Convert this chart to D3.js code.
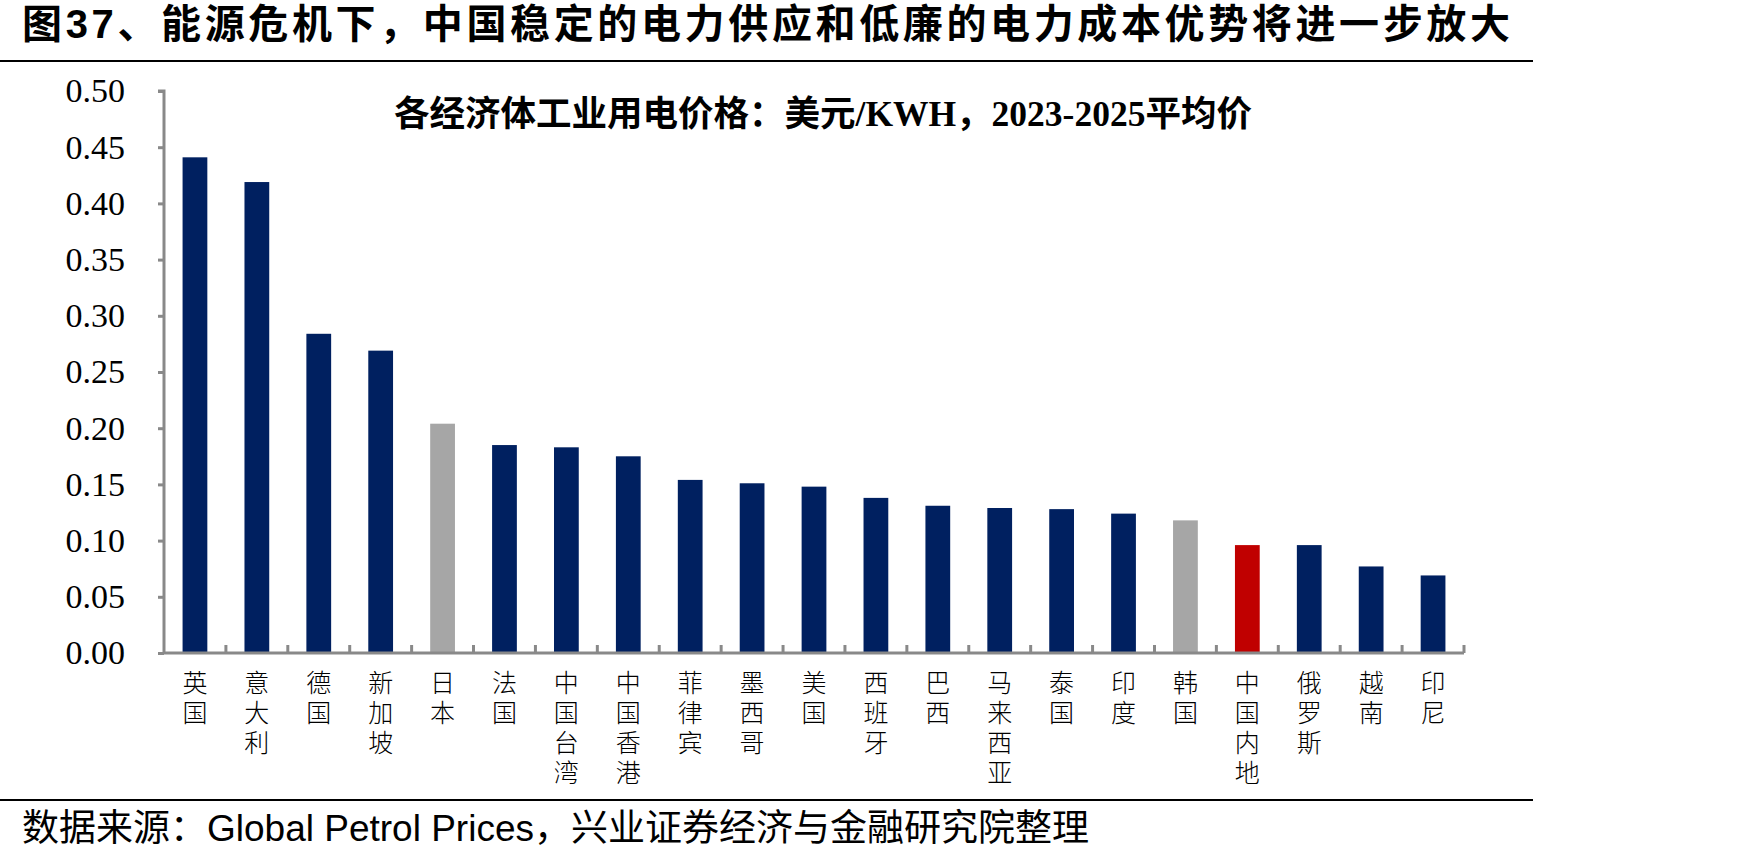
<!DOCTYPE html>
<html>
<head>
<meta charset="utf-8">
<script src="https://cdn.jsdelivr.net/npm/d3@7"></script>
<style>
  body { margin: 0; background: #fff; }
</style>
</head>
<body>
<div id="chart"></div>
<script>
// economies, left to right
var economies = ["英国", "意大利", "德国", "新加坡", "日本", "法国", "中国台湾", "中国香港", "菲律宾", "墨西哥",
  "美国", "西班牙", "巴西", "马来西亚", "泰国", "印度", "韩国", "中国内地", "俄罗斯", "越南", "印尼"];
// industrial power price, USD/KWH, 2023-2025 avg
var prices = [0.441, 0.419, 0.284, 0.269, 0.204, 0.185, 0.183, 0.175, 0.154, 0.151,
  0.148, 0.138, 0.131, 0.129, 0.128, 0.124, 0.118, 0.096, 0.096, 0.077, 0.069];
var yTicks = [0, 0.05, 0.10, 0.15, 0.20, 0.25, 0.30, 0.35, 0.40, 0.45, 0.50];

var data = economies.map(function(d, i) { return { name: d, value: prices[i] }; });

var svgWidth = 1748;
var svgHeight = 862;
var margin = { top: 91, left: 164, right: 284, bottom: 209 };
var width = svgWidth - margin.left - margin.right;
var height = svgHeight - margin.top - margin.bottom;

var svg = d3.select("#chart")
  .append("svg")
  .attr("width", svgWidth)
  .attr("height", svgHeight);

// header
svg.append("text")
  .attr("x", 22)
  .attr("y", 38)
  .attr("font-family", "'Liberation Sans', 'Noto Sans CJK SC', sans-serif")
  .attr("font-weight", "bold")
  .attr("font-size", 40)
  .attr("textLength", 1488)
  .attr("fill", "#000")
  .text("图37、能源危机下，中国稳定的电力供应和低廉的电力成本优势将进一步放大");

svg.append("line")
  .attr("x1", 0).attr("x2", 1533)
  .attr("y1", 61).attr("y2", 61)
  .attr("stroke", "#000")
  .attr("stroke-width", 2);

var chartGroup = svg.append("g")
  .attr("transform", `translate(${margin.left}, ${margin.top})`);

var xBandScale = d3.scaleBand()
  .domain(economies)
  .range([0, width])
  .paddingInner(0.6)
  .paddingOuter(0.3);

var yLinearScale = d3.scaleLinear()
  .domain([0, 0.5])
  .range([height, 0]);

// bars
chartGroup.selectAll("rect")
  .data(data)
  .enter()
  .append("rect")
  .attr("x", d => xBandScale(d.name))
  .attr("y", d => yLinearScale(d.value))
  .attr("width", xBandScale.bandwidth())
  .attr("height", d => height - yLinearScale(d.value))
  .attr("fill", function(d) {
    if (d.name == "中国内地") return "#C00000";
    if (d.name == "日本" || d.name == "韩国") return "#A6A6A6";
    return "#002060";
  });

// y axis
var leftAxis = d3.axisLeft(yLinearScale)
  .tickValues(yTicks)
  .tickFormat(d3.format(".2f"))
  .tickSize(6)
  .tickPadding(33);

var yAxisG = chartGroup.append("g").call(leftAxis);
yAxisG.select(".domain").attr("stroke", "#898989").attr("stroke-width", 3)
  .attr("d", `M-6,0H0V${height}`);
yAxisG.selectAll(".tick line").attr("stroke", "#898989").attr("stroke-width", 3);
yAxisG.selectAll(".tick text")
  .attr("font-family", "'Liberation Serif', 'Times New Roman', serif")
  .attr("font-size", 34)
  .attr("fill", "#000");

// x axis: ticks between categories, pointing up
var step = xBandScale.step();
var xStart = xBandScale(economies[0]) - step * xBandScale.paddingInner() / 2;
var edgeTicks = d3.range(economies.length + 1).map(i => Math.min(width, xStart + i * step));

var xAxisG = chartGroup.append("g")
  .attr("transform", `translate(0, ${height})`);
xAxisG.append("line")
  .attr("x1", 0).attr("x2", width)
  .attr("y1", 0).attr("y2", 0)
  .attr("stroke", "#898989")
  .attr("stroke-width", 3);
xAxisG.selectAll(".xtick")
  .data(edgeTicks.slice(1))
  .enter()
  .append("line")
  .attr("class", "xtick")
  .attr("x1", d => d).attr("x2", d => d)
  .attr("y1", 0).attr("y2", -8)
  .attr("stroke", "#898989")
  .attr("stroke-width", 3);

// vertical category labels, one char per line
var labelGroup = xAxisG.selectAll(".xlabel")
  .data(economies)
  .enter()
  .append("g")
  .attr("class", "xlabel");

labelGroup.each(function(name) {
  var cx = xBandScale(name) + xBandScale.bandwidth() / 2;
  var g = d3.select(this);
  name.split("").forEach(function(ch, k) {
    g.append("text")
      .attr("x", cx)
      .attr("y", 39 + k * 30)
      .attr("font-family", "'Liberation Serif', 'Noto Sans CJK SC', sans-serif")
      .attr("font-weight", 300)
      .attr("font-size", 25)
      .attr("fill", "#000")
      .attr("text-anchor", "middle")
      .text(ch);
  });
});

// subtitle inside plot
chartGroup.append("text")
  .attr("x", 823 - margin.left)
  .attr("y", 126 - margin.top)
  .attr("text-anchor", "middle")
  .attr("font-family", "'Liberation Serif', 'Times New Roman', 'Noto Sans CJK SC', serif")
  .attr("font-weight", "bold")
  .attr("font-size", 35.5)
  .attr("fill", "#000")
  .text("各经济体工业用电价格：美元/KWH，2023-2025平均价");

// footer
svg.append("line")
  .attr("x1", 0).attr("x2", 1533)
  .attr("y1", 800).attr("y2", 800)
  .attr("stroke", "#000")
  .attr("stroke-width", 2);

svg.append("text")
  .attr("x", 22)
  .attr("y", 841)
  .attr("font-family", "'Liberation Sans', 'Noto Sans CJK SC', sans-serif")
  .attr("font-size", 37)
  .attr("fill", "#000")
  .text("数据来源：Global Petrol Prices，兴业证券经济与金融研究院整理");
</script>
</body>
</html>
